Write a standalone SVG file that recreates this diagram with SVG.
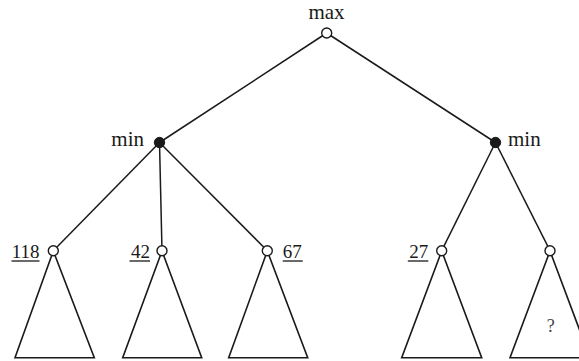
<svg xmlns="http://www.w3.org/2000/svg" width="579" height="361" viewBox="0 0 579 361">
<style>
.e{stroke:#1a1a1a;stroke-width:1.5;fill:none}
.t{stroke:#1a1a1a;stroke-width:1.6;fill:none;stroke-linejoin:miter}
.o{fill:#fff;stroke:#1a1a1a;stroke-width:1.4}
.f{fill:#1a1a1a;stroke:#1a1a1a;stroke-width:1}
text{font-family:"Liberation Serif","Times New Roman",serif;font-size:19px;fill:#1a1a1a}
.w{font-size:21px}
.u{stroke:#1a1a1a;stroke-width:1.3}
</style>
<rect width="579" height="361" fill="#fff"/>
<g id="connectors">
<line class="e" x1="326.7" y1="33" x2="159.5" y2="142.5"/>
<line class="e" x1="326.7" y1="33" x2="495.5" y2="142.5"/>
<line class="e" x1="159.5" y1="142.5" x2="53.3" y2="250.7"/>
<line class="e" x1="159.5" y1="142.5" x2="162" y2="250.7"/>
<line class="e" x1="159.5" y1="142.5" x2="267.3" y2="250.7"/>
<line class="e" x1="495.5" y1="142.5" x2="441.7" y2="250.7"/>
<line class="e" x1="495.5" y1="142.5" x2="550" y2="250.7"/>
</g>
<g id="root">
<circle class="o" cx="326.7" cy="33" r="5"/>
<text class="w" x="326.5" y="19" text-anchor="middle">max</text>
</g>
<g id="minL">
<circle class="f" cx="159.5" cy="142.5" r="5.2"/>
<text class="w" x="144" y="146" text-anchor="end">min</text>
</g>
<g id="minR">
<circle class="f" cx="495.5" cy="142.5" r="5.2"/>
<text class="w" x="508" y="146">min</text>
</g>
<g id="leaf118">
<polygon class="t" points="53.3,251 15,357.7 94.3,357.7"/>
<circle class="o" cx="53.3" cy="250.7" r="5"/>
<text x="39.5" y="257.5" text-anchor="end">118</text>
<line class="u" x1="11.5" y1="261" x2="39.5" y2="261"/>
</g>
<g id="leaf42">
<polygon class="t" points="162,251 122.7,357.7 201.7,357.7"/>
<circle class="o" cx="162" cy="250.7" r="5"/>
<text x="150" y="257.5" text-anchor="end">42</text>
<line class="u" x1="129.5" y1="261" x2="150" y2="261"/>
</g>
<g id="leaf67">
<polygon class="t" points="267.3,251 228.7,357.7 307.7,357.7"/>
<circle class="o" cx="267.3" cy="250.7" r="5"/>
<text x="282.7" y="257.5">67</text>
<line class="u" x1="282.7" y1="261" x2="302.7" y2="261"/>
</g>
<g id="leaf27">
<polygon class="t" points="441.7,251 401.7,357.7 481.7,357.7"/>
<circle class="o" cx="441.7" cy="250.7" r="5"/>
<text x="428.3" y="257.5" text-anchor="end">27</text>
<line class="u" x1="407.8" y1="261" x2="428.3" y2="261"/>
</g>
<g id="leafQ">
<polygon class="t" points="550,251 510,357.7 590,357.7"/>
<circle class="o" cx="550" cy="250.7" r="5"/>
<text x="550.7" y="332" text-anchor="middle" style="font-size:18px;fill:#444">?</text>
</g>
</svg>
